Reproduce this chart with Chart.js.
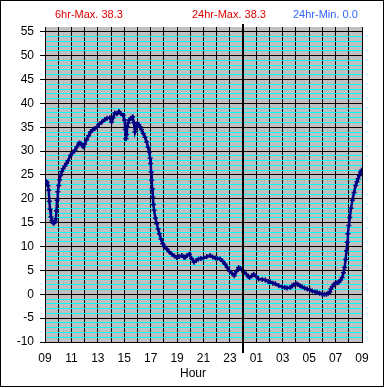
<!DOCTYPE html>
<html>
<head>
<meta charset="utf-8">
<script src="https://cdn.jsdelivr.net/npm/chart.js@4/dist/chart.umd.min.js"></script>
<style>
  body { margin: 0; background: #fff; }
  canvas { display: block; }
</style>
</head>
<body>
<canvas id="tempChart" width="385" height="388"></canvas>
<script>
// hours since 09:00
const hours = [0, 0.08, 0.15, 0.22, 0.28, 0.33, 0.38, 0.45, 0.52, 0.6, 0.68, 0.76, 0.82, 0.87, 0.91, 0.97,
  1.04, 1.1, 1.17, 1.27, 1.37, 1.5, 1.62, 1.75, 1.93, 2.08, 2.26, 2.42, 2.58, 2.7, 2.8, 2.89,
  3.0, 3.14, 3.3, 3.45, 3.6, 3.77, 3.95, 4.1, 4.3, 4.53, 4.7, 4.91, 5.04, 5.15, 5.29, 5.45,
  5.6, 5.75, 5.92, 6.02, 6.08, 6.13, 6.18, 6.23, 6.3, 6.38, 6.5, 6.63, 6.72, 6.81, 6.9, 7.0,
  7.1, 7.19, 7.3, 7.44, 7.57, 7.7, 7.8, 7.9, 7.96, 8.0, 8.04, 8.08, 8.12, 8.16, 8.21, 8.26,
  8.36, 8.46, 8.56, 8.66, 8.78, 8.91, 9.05, 9.22, 9.4, 9.6, 9.8, 9.98, 10.15, 10.36, 10.5, 10.6,
  10.75, 10.93, 11.1, 11.29, 11.45, 11.62, 11.8, 12.0, 12.25, 12.5, 12.7, 12.89, 13.05, 13.26, 13.45, 13.64,
  13.8, 13.97, 14.15, 14.33, 14.5, 14.66, 14.8, 14.91, 15.08, 15.24, 15.4, 15.49, 15.65, 15.8, 16.0, 16.17,
  16.45, 16.68, 16.9, 17.06, 17.25, 17.44, 17.7, 17.95, 18.15, 18.33, 18.58, 18.7, 18.83, 19.0, 19.13, 19.3,
  19.47, 19.65, 19.85, 20.05, 20.23, 20.45, 20.61, 20.8, 20.99, 21.15, 21.31, 21.45, 21.56, 21.65, 21.75, 21.88,
  22.0, 22.12, 22.25, 22.38, 22.5, 22.6, 22.68, 22.76, 22.83, 22.88, 22.93, 23.0, 23.08, 23.17, 23.27, 23.4,
  23.52, 23.62, 23.7, 23.8, 23.9, 23.97];
const temps = [23.8, 23.7, 23.4, 22.8, 21.8, 19.5, 17.8, 16.2, 15.4, 15.0, 14.9, 15.2, 15.8, 17.5, 19.7, 21.5,
  22.8, 24.0, 24.9, 25.7, 26.3, 26.9, 27.4, 28.0, 29.1, 29.6, 30.2, 30.9, 31.7, 31.6, 31.2, 30.9,
  31.5, 32.4, 33.2, 34.0, 34.4, 34.7, 35.1, 35.6, 36.1, 36.6, 36.9, 37.0, 36.1, 37.0, 38.0, 37.8,
  38.3, 37.8, 37.5, 36.5, 34.5, 32.6, 33.5, 35.1, 35.9, 36.5, 36.9, 37.2, 36.0, 34.0, 35.0, 35.8,
  35.5, 35.1, 34.5, 33.7, 32.9, 31.9, 30.8, 29.8, 28.5, 27.4, 25.6, 23.9, 22.1, 20.4, 18.8, 17.6,
  16.0, 14.8, 13.7, 12.7, 11.6, 10.6, 10.0, 9.5, 8.9, 8.4, 8.0, 7.7, 7.9, 8.1, 7.8, 7.7,
  8.1, 8.4, 7.5, 6.7, 7.1, 7.4, 7.5, 7.6, 7.9, 8.1, 7.8, 7.6, 7.5, 7.4, 6.9, 6.3,
  5.6, 4.9, 4.4, 3.9, 4.8, 5.6, 5.4, 5.1, 4.6, 4.2, 3.7, 3.5, 3.9, 4.2, 3.7, 3.2,
  3.1, 3.0, 2.7, 2.6, 2.3, 2.2, 1.8, 1.6, 1.4, 1.3, 1.4, 1.8, 2.0, 2.2, 2.1, 1.8,
  1.6, 1.3, 1.1, 0.9, 0.7, 0.5, 0.4, 0.2, 0.0, 0.0, 0.0, 0.2, 0.5, 1.1, 1.6, 2.1,
  2.3, 2.4, 2.5, 3.0, 3.5, 4.5, 5.6, 7.3, 9.1, 10.9, 12.7, 14.4, 16.1, 18.0, 19.7, 21.3,
  22.8, 23.6, 24.2, 24.9, 25.6, 26.0];

const xTickLabels = ['09', '11', '13', '15', '17', '19', '21', '23', '01', '03', '05', '07', '09'];
const midnightHour = 15;
const headerTexts = [
  { text: '6hr-Max. 38.3', x: 55, color: '#e00000' },
  { text: '24hr-Max. 38.3', x: 192, color: '#e00000' },
  { text: '24hr-Min. 0.0', x: 293, color: '#3366ff' }
];
const xTitle = 'Hour';

const FONT = '"Liberation Sans", Arial, sans-serif';

// 背景、边框、标题文字、午夜线
const decorPlugin = {
    id: 'decor',
    beforeDraw(chart) {
        const { ctx, chartArea: a } = chart;
        ctx.save();
        ctx.fillStyle = '#c0c0c0';
        ctx.fillRect(a.left, a.top, a.right - a.left, a.bottom - a.top);
        ctx.restore();
    },
    afterDatasetsDraw(chart) {
        const { ctx, chartArea: a } = chart;
        const x = Math.round(chart.scales.x.getPixelForValue(midnightHour));
        ctx.save();
        ctx.fillStyle = '#000';
        ctx.fillRect(x - 1, a.top - 3, 2, a.bottom - a.top + 14);
        ctx.restore();
    },
    afterDraw(chart) {
        const ctx = chart.ctx;
        ctx.save();
        ctx.font = '11px ' + FONT;
        ctx.textBaseline = 'middle';
        ctx.textAlign = 'left';
        headerTexts.forEach(t => {
            ctx.fillStyle = t.color;
            ctx.fillText(t.text, t.x, 15);
        });
        ctx.fillStyle = '#000';
        ctx.font = '12px ' + FONT;
        ctx.textAlign = 'center';
        ctx.fillText(xTitle, 193, 374);
        ctx.strokeStyle = '#000';
        ctx.lineWidth = 1;
        ctx.strokeRect(0.5, 0.5, 383, 386);
        ctx.restore();
    }
};

new Chart(document.getElementById('tempChart').getContext('2d'), {
    type: 'line',
    data: {
        datasets: [{
            data: hours.map((h, i) => ({ x: h, y: temps[i] })),
            borderColor: '#000080',
            backgroundColor: '#000080',
            borderWidth: 2.5,
            pointStyle: 'cross',
            pointRadius: 2.5,
            pointBorderWidth: 1.5,
            tension: 0
        }]
    },
    options: {
        responsive: false,
        animation: false,
        layout: { padding: { left: 0, right: 23, top: 27, bottom: 0 } },
        plugins: {
            legend: { display: false },
            tooltip: { enabled: false }
        },
        scales: {
            x: {
                type: 'linear',
                min: 0,
                max: 24,
                afterFit: scale => { scale.height = 46; },
                afterBuildTicks: scale => {
                    scale.ticks = [];
                    for (let v = 0; v <= 24; v++) scale.ticks.push({ value: v });
                },
                ticks: {
                    autoSkip: false,
                    maxRotation: 0,
                    padding: 9,
                    color: '#000',
                    font: { family: FONT, size: 12 },
                    callback: v => (v % 2 === 0 ? xTickLabels[v / 2] : '')
                },
                grid: { color: '#000', drawTicks: false, lineWidth: 1 },
                border: { color: '#000' }
            },
            y: {
                min: -10,
                max: 56,
                afterFit: scale => { scale.width = 45; },
                afterBuildTicks: scale => {
                    scale.ticks = [];
                    for (let v = -10; v <= 56; v++) scale.ticks.push({ value: v });
                },
                ticks: {
                    autoSkip: false,
                    padding: 6,
                    color: '#000',
                    font: { family: FONT, size: 12 },
                    callback: v => (v % 5 === 0 ? String(v) : '')
                },
                grid: {
                    lineWidth: 1,
                    tickLength: 5,
                    color: c => (c.tick.value === 56 ? 'rgba(0,0,0,0)' : (c.tick.value % 5 === 0 ? '#000' : '#00ffff')),
                    tickColor: c => (c.tick.value % 5 === 0 && c.tick.value !== 56 ? '#000' : 'rgba(0,0,0,0)')
                },
                border: { color: '#000' }
            }
        }
    },
    plugins: [decorPlugin]
});
</script>
</body>
</html>
